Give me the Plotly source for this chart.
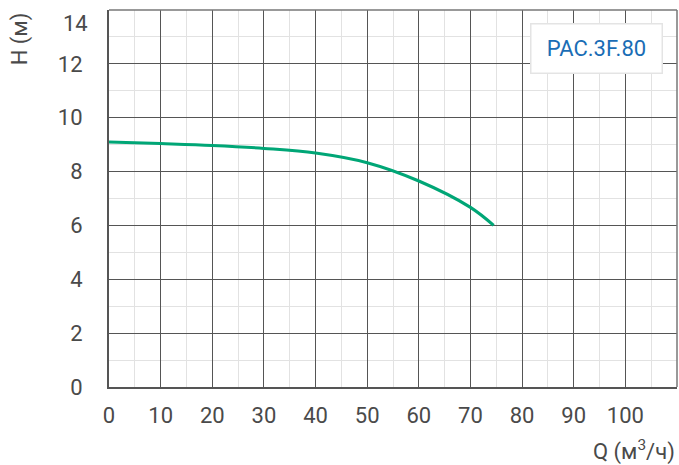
import plotly.graph_objects as go

q = [0, 10, 20, 30, 40, 50, 60, 70, 74.5]
h = [9.1, 9.04, 8.97, 8.86, 8.69, 8.33, 7.65, 6.67, 6.0]

x_ticks = [0, 10, 20, 30, 40, 50, 60, 70, 80, 90, 100]
y_ticks = [0, 2, 4, 6, 8, 10, 12, 14]
model_name = "PAC.3F.80"

fig = go.Figure()
fig.add_trace(go.Scatter(x=q, y=h, mode="lines", line=dict(color="#00a676", width=3, shape="spline", smoothing=1.0),
                         showlegend=False, hoverinfo="skip"))

font = dict(family="Roboto, 'DejaVu Sans', sans-serif", size=22, color="#4a4a4a")

fig.update_xaxes(range=[0, 110], tickvals=x_ticks, ticktext=[str(v) for v in x_ticks],
                 showgrid=True, gridcolor="#555555", gridwidth=1.3,
                 minor=dict(dtick=5, showgrid=True, gridcolor="#e2e2e2", gridwidth=1.3),
                 showline=True, linecolor="#555555", linewidth=2, mirror=False,
                 zeroline=False, tickfont=font, ticks="", ticklabelstandoff=8, automargin=False)
# top tick label drawn as annotation (shifted down inside the chart like the reference)
y_ticktext = [str(v) for v in y_ticks[:-1]] + [""]
fig.update_yaxes(range=[0, 14], tickvals=y_ticks, ticktext=y_ticktext,
                 showgrid=True, gridcolor="#555555", gridwidth=1.3,
                 minor=dict(dtick=1, showgrid=True, gridcolor="#e2e2e2", gridwidth=1.3),
                 showline=True, linecolor="#555555", linewidth=2, mirror=False,
                 zeroline=False, tickfont=font, ticks="", ticklabelstandoff=20, automargin=False)
fig.add_annotation(text=str(y_ticks[-1]), xref="paper", yref="y", x=0, y=y_ticks[-1],
                   xanchor="right", yanchor="top", xshift=-19, yshift=1, showarrow=False, font=font)

fig.add_annotation(text="H (м)", xref="paper", yref="paper", x=-0.157, y=1.0,
                   xanchor="center", yanchor="top", textangle=-90, showarrow=False, font=font)
fig.add_annotation(text="Q (м<sup>3</sup>/ч)", xref="paper", yref="paper", x=1.0, y=-0.125,
                   xanchor="right", yanchor="top", showarrow=False, font=font)
fig.add_annotation(text=model_name, xref="paper", yref="paper", x=0.975, y=0.966,
                   xanchor="right", yanchor="top", showarrow=False, width=108, height=26,
                   font=dict(family="Roboto, 'DejaVu Sans', sans-serif", size=22, color="#1a6db5"),
                   bgcolor="white", bordercolor="#e4e4e4", borderwidth=1.5, borderpad=11)

# top & right border lines
fig.add_shape(type="line", xref="paper", yref="paper", x0=0, x1=1, y0=1, y1=1,
              line=dict(color="#777777", width=1.5))
fig.add_shape(type="line", xref="paper", yref="paper", x0=1, x1=1, y0=0, y1=1,
              line=dict(color="#777777", width=1.5))

fig.update_layout(width=679, height=465, margin=dict(l=109, r=2, t=10, b=78, autoexpand=False),
                  plot_bgcolor="white", paper_bgcolor="white")
fig.write_html("out.html", config={"displayModeBar": False},
               post_script="document.body.style.margin='0';document.body.style.overflow='hidden';")
